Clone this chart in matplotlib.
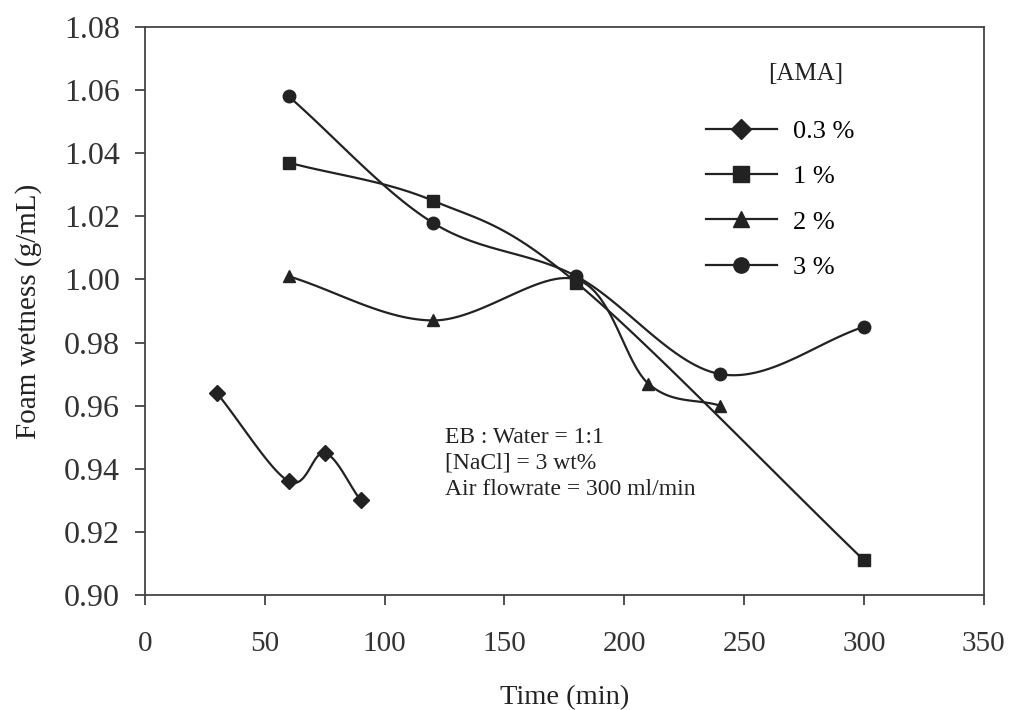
import numpy as np
import matplotlib.pyplot as plt
from matplotlib.lines import Line2D

plt.rcParams['font.family'] = ['Liberation Serif', 'DejaVu Serif']

# data
t_03 = [30, 60, 75, 90]
w_03 = [0.964, 0.936, 0.945, 0.930]
t_1 = [60, 120, 180, 300]
w_1 = [1.037, 1.025, 0.999, 0.911]
t_2 = [60, 120, 180, 210, 240]
w_2 = [1.001, 0.987, 1.000, 0.967, 0.960]
t_3 = [60, 120, 180, 240, 300]
w_3 = [1.058, 1.018, 1.001, 0.970, 0.985]

labels = ["0.3 %", "1 %", "2 %", "3 %"]
markers = ["D", "s", "^", "o"]


def smooth(x, y, n=30):
    # catmull-rom style curve through the points (excel "smoothed line")
    x = np.asarray(x, float)
    y = np.asarray(y, float)
    px = np.concatenate([[2 * x[0] - x[1]], x, [2 * x[-1] - x[-2]]])
    py = np.concatenate([[2 * y[0] - y[1]], y, [2 * y[-1] - y[-2]]])
    xs, ys = [], []
    s = np.linspace(0, 1, n)
    for i in range(1, len(px) - 2):
        for p, out in ((px, xs), (py, ys)):
            p0, p1, p2, p3 = p[i - 1], p[i], p[i + 1], p[i + 2]
            out.extend(0.5 * ((2 * p1) + (-p0 + p2) * s
                              + (2 * p0 - 5 * p1 + 4 * p2 - p3) * s ** 2
                              + (-p0 + 3 * p1 - 3 * p2 + p3) * s ** 3))
    return xs, ys


fig = plt.figure(figsize=(10.09, 7.10), dpi=100)
ax = fig.add_axes([0.1437, 0.162, 0.8313, 0.8])

series = [(t_03, w_03), (t_1, w_1), (t_2, w_2), (t_3, w_3)]
for (t, w), m in zip(series, markers):
    sx, sy = smooth(t, w)
    ax.plot(sx, sy, color="#222222", linewidth=1.6)
    ax.plot(t, w, linestyle="none", marker=m, markersize=9 if m != "D" else 8,
            color="#222222")

ax.set_xlim(0, 350)
ax.set_ylim(0.90, 1.08)
ax.set_xticks(range(0, 351, 50))
ax.set_yticks(np.arange(0.90, 1.0801, 0.02))
ax.set_yticklabels([f"{v:.2f}" for v in np.arange(0.90, 1.0801, 0.02)])
ax.tick_params(direction="out", length=7, width=1.2, colors="#333333")
ax.tick_params(axis="x", labelsize=21, pad=19)
ax.tick_params(axis="y", labelsize=23, pad=11)
for s in ax.spines.values():
    s.set_linewidth(1.3)
    s.set_color("#444444")

ax.set_xlabel("Time (min)", fontsize=20.5, color="#222222", va="center")
ax.xaxis.set_label_coords(0.5, -0.18)
ax.set_ylabel("Foam wetness (g/mL)", fontsize=21, color="#222222", va="center")
ax.yaxis.set_label_coords(-0.139, 0.5)

ax.text(125, 0.950, "EB : Water = 1:1", fontsize=17, va="center", color="#222222")
ax.text(125, 0.9418, "[NaCl] = 3 wt%", fontsize=17, va="center", color="#222222")
ax.text(125, 0.9335, "Air flowrate = 300 ml/min", fontsize=17, va="center",
        color="#222222")

# legend title sits apart from the entries
ax.text(0.788, 0.917, "[AMA]", transform=ax.transAxes, fontsize=18,
        ha="center", va="center", color="#222222")
handles = [Line2D([], [], color="#222222", linewidth=1.6, marker=m,
                  markersize=11 if m != "D" else 10) for m in markers]
ax.legend(handles, labels, loc="upper left", bbox_to_anchor=(0.64, 0.879),
          frameon=False, fontsize=19, handlelength=2.7, labelspacing=0.83,
          handletextpad=0.6)

fig.savefig("out.png", dpi=100)
